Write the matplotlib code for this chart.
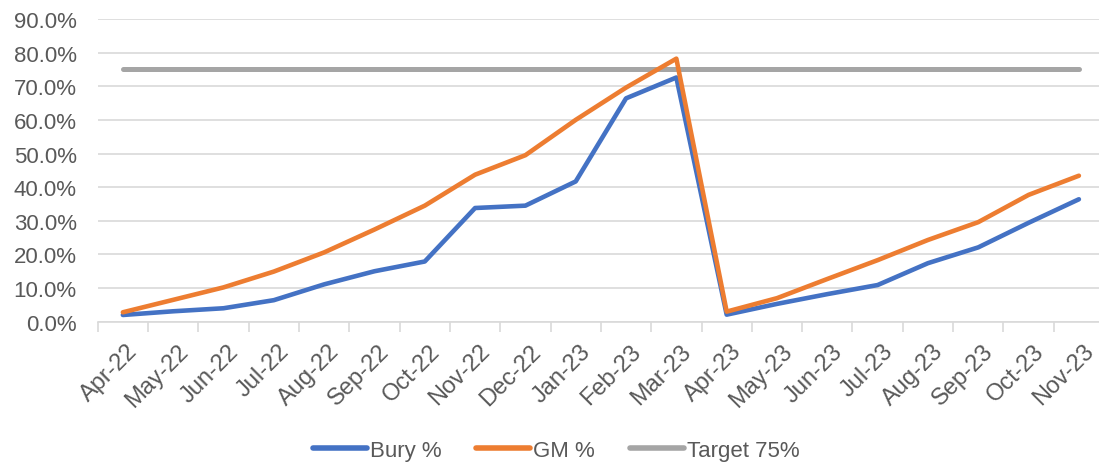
import matplotlib as mpl
import matplotlib.pyplot as plt
import matplotlib.transforms as mtransforms
import numpy as np

mpl.rcParams['font.family'] = ['Liberation Sans', 'DejaVu Sans']
text_col = '#595959'

months = ["Apr-22", "May-22", "Jun-22", "Jul-22", "Aug-22", "Sep-22", "Oct-22",
          "Nov-22", "Dec-22", "Jan-23", "Feb-23", "Mar-23", "Apr-23", "May-23",
          "Jun-23", "Jul-23", "Aug-23", "Sep-23", "Oct-23", "Nov-23"]
bury = [2.0, 3.1, 4.0, 6.4, 11.1, 15.0, 17.9, 33.8, 34.5, 41.7, 66.4, 72.6,
        2.1, 5.3, 8.2, 10.9, 17.4, 22.1, 29.4, 36.4]
gm = [2.8, 6.5, 10.2, 14.9, 20.6, 27.4, 34.5, 43.7, 49.5, 60.0, 69.6, 78.2,
      3.0, 7.0, 12.7, 18.3, 24.3, 29.6, 37.7, 43.4]
target = [75.0] * len(months)

fig = plt.figure(figsize=(10.99, 4.64), dpi=100)
ax = fig.add_axes([0.0889, 0.3045, 0.9157, 0.6525])

x = np.arange(len(months))
ax.plot(x, bury, color='#4472C4', lw=3.3, label='Bury %', solid_capstyle='round', zorder=3)
ax.plot(x, gm, color='#ED7D31', lw=3.3, label='GM %', solid_capstyle='round', zorder=4)
ax.plot(x, target, color='#A5A5A5', lw=3.6, label='Target 75%', solid_capstyle='round', zorder=2)

ax.set_xlim(-0.5, len(months) - 0.5)
ax.set_ylim(0, 90)
ax.set_yticks(np.arange(0, 91, 10))
ax.set_yticklabels(["%.1f%%" % v for v in np.arange(0, 91, 10)], fontsize=16, color=text_col)
ax.yaxis.grid(True, color='#D9D9D9', lw=1.2)
ax.set_axisbelow(True)
ax.tick_params(axis='y', length=0, pad=15)

ax.set_xticks(x)
ax.set_xticklabels(months, rotation=45, ha='right', va='top', rotation_mode='anchor',
                   fontsize=17, color=text_col)
ax.set_xticks(np.arange(-0.5, len(months), 1), minor=True)
ax.tick_params(axis='x', which='major', length=0, pad=13)
ax.tick_params(axis='x', which='minor', length=7, color='#D9D9D9', width=1.2)
shift = mtransforms.ScaledTranslation(4 / 100, 0, fig.dpi_scale_trans)
for lab in ax.get_xticklabels():
    lab.set_transform(lab.get_transform() + shift)

for s in ['top', 'right', 'left']:
    ax.spines[s].set_visible(False)
ax.spines['bottom'].set_color('#D9D9D9')
ax.spines['bottom'].set_linewidth(1.2)

leg = fig.legend(loc='center', bbox_to_anchor=(0.506, 0.027), ncol=3, frameon=False,
                 fontsize=16, handlelength=2.43, columnspacing=1.55, handletextpad=0.15,
                 labelcolor=text_col)
for h in leg.legend_handles:
    h.set_linewidth(4)

fig.savefig('out.png', dpi=100)
